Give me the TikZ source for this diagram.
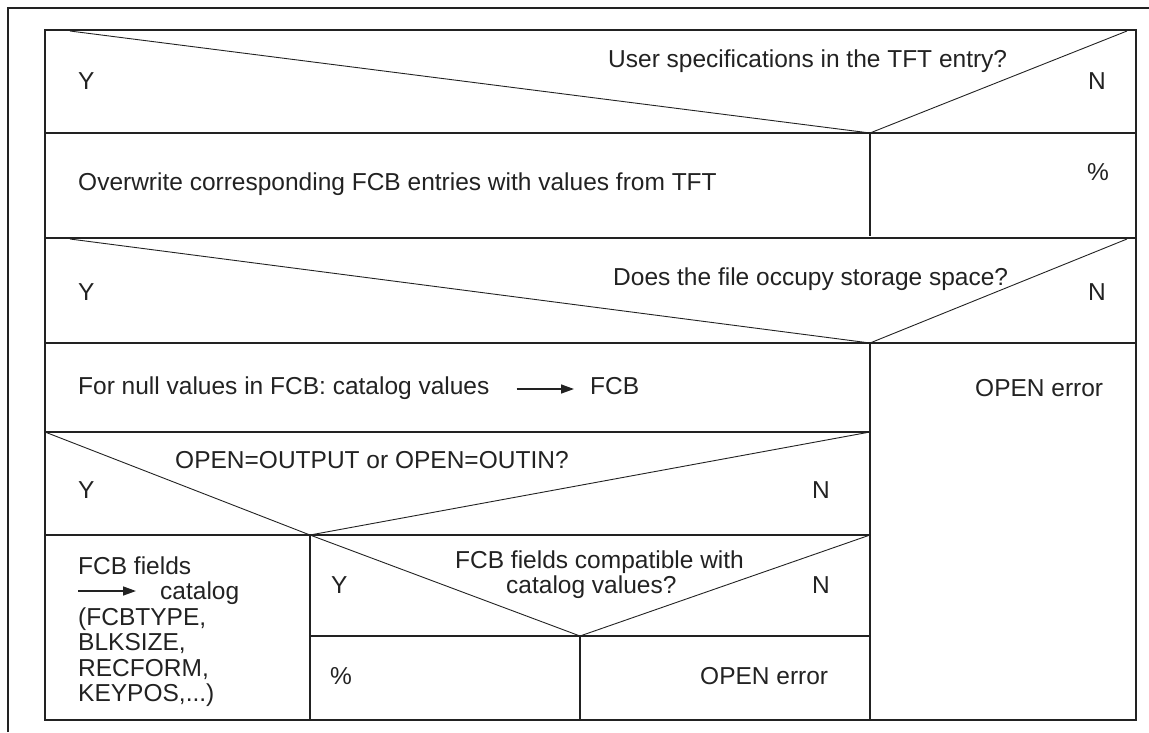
\documentclass[tikz,border=0pt]{standalone}
\usepackage{fontspec}
\setmainfont{Liberation Sans}
\usetikzlibrary{arrows.meta}
\definecolor{ink}{HTML}{222222}
\tikzset{
  grid/.style={draw=ink, line width=1.6pt},
  diag/.style={draw=ink, line width=0.9pt},
  frame/.style={draw=ink, line width=1.6pt},
  txt/.style={anchor=base west, inner sep=0pt, text=ink, font=\fontsize{24.5pt}{25.5pt}\selectfont},
  arr/.style={draw=ink, line width=1.5pt, -{Triangle[length=13pt,width=9pt]}}
}
\begin{document}
\begin{tikzpicture}[x=1pt,y=-1pt]
\useasboundingbox (0,0) rectangle (1149,732);
% outer frame (partial)
\draw[frame] (8,732) -- (8,8) -- (1149,8);
% table grid
\draw[grid] (45,30) rectangle (1136,720);
\draw[grid] (45,133) -- (1136,133);
\draw[grid] (45,238) -- (1136,238);
\draw[grid] (45,343) -- (1136,343);
\draw[grid] (870,133) -- (870,236);
\draw[grid] (870,343) -- (870,720);
\draw[grid] (45,432) -- (870,432);
\draw[grid] (45,535) -- (870,535);
\draw[grid] (310,535) -- (310,720);
\draw[grid] (310,636) -- (870,636);
\draw[grid] (580,636) -- (580,720);
% decision diagonals
\draw[diag] (70,31) -- (870,133) -- (1127,31);
\draw[diag] (70,239) -- (870,343) -- (1127,239);
\draw[diag] (45,432) -- (310,535) -- (870,432);
\draw[diag] (310,535) -- (580,636) -- (870,535);
% row 1
\node[txt] (q1) at (608,67) {User specifications in the TFT entry?};
\node[txt] (y1) at (78,89) {Y};
\node[txt] (n1) at (1088,89) {N};
% row 2
\node[txt] (t2) at (78,190) {Overwrite corresponding FCB entries with values from TFT};
\node[txt] (p2) at (1087,180) {\%};
% row 3
\node[txt] (q3) at (613,285) {Does the file occupy storage space?};
\node[txt] (y3) at (78,300) {Y};
\node[txt] (n3) at (1088,300) {N};
% row 4
\node[txt] (t4) at (78,394) {For null values in FCB: catalog values};
\node[txt] (f4) at (590,394) {FCB};
\draw[arr] ([xshift=27pt,yshift=5pt]t4.base east) -- ([xshift=-16pt,yshift=5pt]f4.base west);
\node[txt] (e4) at (975,396) {OPEN error};
% row 5
\node[txt] (q5) at (175,468) {OPEN=OUTPUT or OPEN=OUTIN?};
\node[txt] (y5) at (78,498) {Y};
\node[txt] (n5) at (812,498) {N};
% row 6 left block
\node[txt] (l1) at (78,574) {FCB fields};
\coordinate (a0) at (78,591);
\node[txt] (l2) at (160,599) {catalog};
\draw[arr] (a0) -- ([xshift=-24pt]a0 -| l2.west);
\node[txt] (l3) at (78,625) {(FCBTYPE,};
\node[txt] (l4) at (78,650) {BLKSIZE,};
\node[txt] (l5) at (78,676) {RECFORM,};
\node[txt] (l6) at (78,701) {KEYPOS,...)};
% row 6 decision
\node[txt] (q6a) at (455,568) {FCB fields compatible with};
\node[txt] (q6b) at (506,593) {catalog values?};
\node[txt] (y6) at (331,593) {Y};
\node[txt] (n6) at (812,593) {N};
% row 7
\node[txt] (p7) at (330,684) {\%};
\node[txt] (e7) at (700,684) {OPEN error};
\end{tikzpicture}
\end{document}
